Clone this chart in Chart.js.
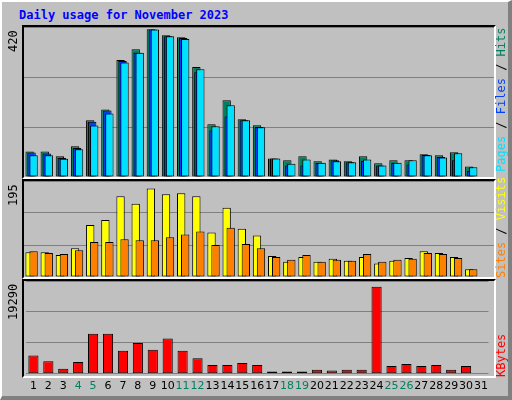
<!DOCTYPE html>
<html>
<head>
<meta charset="utf-8">
<script src="https://cdn.jsdelivr.net/npm/chart.js@4/dist/chart.umd.min.js"></script>
<style>
  body { margin: 0; width: 512px; height: 400px; background: #c0c0c0; overflow: hidden; font-family: "DejaVu Sans Mono", monospace; }
  #frame { position: absolute; left: 0; top: 0; width: 506px; height: 394px; border-top: 2px solid #fff; border-left: 2px solid #fff; border-right: 4px solid #808080; border-bottom: 4px solid #808080; box-sizing: content-box; }
  .wrap { position: absolute; }
  .panel { position: absolute; border-top: 2px solid #000; border-left: 2px solid #000; border-right: 2px solid #fff; border-bottom: 2px solid #fff; pointer-events: none; }
  .vlab { position: absolute; transform: rotate(-90deg); transform-origin: left top; white-space: nowrap; font-size: 12px; }
  #title { position: absolute; left: 19px; top: 8px; color: #0000ff; font-weight: bold; font-size: 12px; }
</style>
</head>
<body>
<div id="frame"></div>
<div id="title">Daily usage for November 2023</div>

<div class="wrap" style="left:24px;top:27px;width:470px;height:150px"><canvas id="c1"></canvas></div>
<div class="panel" style="left:22px;top:25px;width:470px;height:150px"></div>
<div class="wrap" style="left:24px;top:181px;width:470px;height:96px"><canvas id="c2"></canvas></div>
<div class="panel" style="left:22px;top:179px;width:470px;height:96px"></div>
<div class="wrap" style="left:24px;top:281px;width:470px;height:118px"><canvas id="c3"></canvas></div>
<div class="panel" style="left:22px;top:279px;width:470px;height:95px"></div>

<div class="vlab" style="left:6px;top:52px;color:#000">420</div>
<div class="vlab" style="left:6px;top:206px;color:#000">195</div>
<div class="vlab" style="left:6px;top:320px;color:#000">19290</div>

<div class="vlab" style="left:494px;top:172px"><span style="color:#00e0ff">Pages</span> / <span style="color:#0040ff">Files</span> / <span style="color:#008060">Hits</span></div>
<div class="vlab" style="left:494px;top:278px"><span style="color:#ff8000">Sites</span> / <span style="color:#ffff00">Visits</span></div>
<div class="vlab" style="left:494px;top:377px;color:#ff0000">KBytes</div>

<script>
const days = ["1","2","3","4","5","6","7","8","9","10","11","12","13","14","15","16","17","18","19","20","21","22","23","24","25","26","27","28","29","30","31"];
const weekend = [4, 5, 11, 12, 18, 19, 25, 26];

const hits   = [73, 73, 59, 88, 162, 193, 334, 365, 422, 405, 399, 314, 151, 219, 165, 148, 53, 48, 59, 45, 50, 45, 59, 39, 48, 48, 65, 62, 71, 30, 0];
const files  = [70, 67, 54, 83, 158, 190, 331, 355, 421, 402, 397, 299, 133, 173, 162, 143, 53, 33, 33, 40, 48, 42, 46, 33, 40, 36, 63, 57, 48, 17, 0];
const pages  = [62, 62, 52, 79, 147, 181, 327, 355, 421, 402, 394, 308, 145, 205, 162, 142, 53, 38, 50, 41, 45, 42, 50, 33, 41, 48, 62, 56, 68, 28, 0];
const visits = [52, 52, 46, 60, 109, 119, 169, 153, 185, 173, 175, 169, 93, 145, 101, 87, 44, 32, 42, 32, 38, 34, 42, 28, 34, 40, 54, 50, 42, 16, 0];
const sites  = [54, 50, 48, 56, 73, 73, 79, 77, 77, 83, 89, 95, 67, 103, 69, 60, 42, 36, 46, 32, 36, 34, 48, 32, 36, 38, 50, 48, 40, 16, 0];
const kbytes = [3930, 2710, 1080, 2500, 8600, 8600, 4940, 6570, 5150, 7580, 4940, 3320, 1900, 1900, 2300, 1900, 470, 470, 470, 880, 680, 880, 880, 18620, 1690, 2100, 1690, 1900, 880, 1690, 0];

// webalizer style: bars of a day overlap, shifted a few pixels each
const shiftBars = {
    id: "shiftBars",
    afterDatasetsUpdate(chart) {
        chart.data.datasets.forEach((ds, i) => {
            if (!ds.shift) return;
            chart.getDatasetMeta(i).data.forEach(bar => { bar.x += ds.shift; });
        });
    },
};

const makeChart = (id, datasets, max, showX, bp) => {
    return new Chart(document.getElementById(id), {
        type: "bar",
        data: { labels: days, datasets: datasets },
        plugins: [shiftBars],
        options: {
            responsive: true,
            maintainAspectRatio: false,
            animation: false,
            layout: { padding: 0 },
            datasets: { bar: { grouped: false, categoryPercentage: 1, barPercentage: bp, borderColor: "#000", borderWidth: 1, borderSkipped: false } },
            plugins: { legend: { display: false }, tooltip: { enabled: false } },
            scales: {
                x: {
                    grid: { display: false, drawTicks: false },
                    border: { display: false },
                    ticks: {
                        display: showX,
                        autoSkip: false,
                        maxRotation: 0,
                        minRotation: 0,
                        padding: 6,
                        font: { family: "DejaVu Sans", size: 11 },
                        color: ctx => weekend.includes(ctx.index + 1) ? "#008060" : "#000",
                    },
                },
                y: {
                    min: 0,
                    max: max,
                    ticks: { display: false, stepSize: max / 3 },
                    grid: { color: "#808080", lineWidth: 1, drawTicks: false },
                    border: { display: false },
                    afterFit: s => { s.width = 0; },
                },
            },
        },
    });
}

makeChart("c1", [
    { data: pages, backgroundColor: "#00e0ff", shift: 2 },
    { data: files, backgroundColor: "#0040ff", shift: 0 },
    { data: hits, backgroundColor: "#008060", shift: -2 },
], 420 * 1.02, false, 0.55);

makeChart("c2", [
    { data: sites, backgroundColor: "#ff8000", shift: 2 },
    { data: visits, backgroundColor: "#ffff00", shift: -2 },
], 195 * 1.03, false, 0.55);

makeChart("c3", [
    { data: kbytes, backgroundColor: "#ff0000" },
], 19290 * 1.03, true, 0.68);
</script>
</body>
</html>
